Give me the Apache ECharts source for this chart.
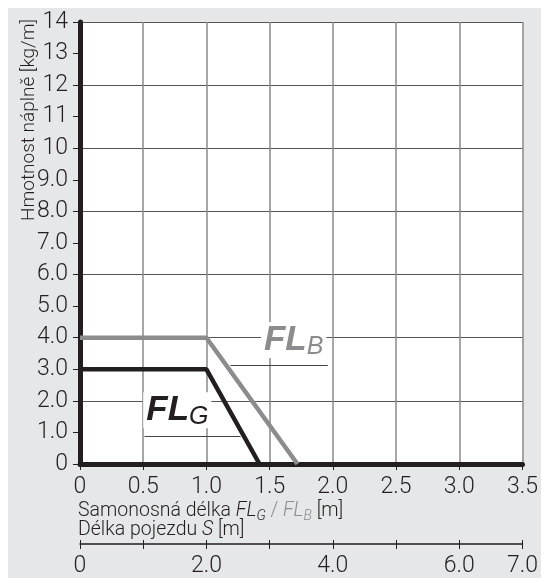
<!DOCTYPE html>
<html>
<head>
<meta charset="utf-8">
<script src="https://cdn.jsdelivr.net/npm/echarts@6/dist/echarts.min.js"></script>
<style>
html,body{margin:0;padding:0;background:#fff;}
#bg{position:absolute;left:8px;top:8px;width:533px;height:570px;background:#e6e7e8;}
#chart{position:absolute;left:0;top:0;width:541px;height:578px;}
</style>
</head>
<body>
<div id="bg"></div>
<div id="chart"></div>
<script>
// Data
const flG = [[0, 3.0], [1.0, 3.0], [1.42, 0]];
const flB = [[0, 4.0], [1.0, 4.0], [1.72, 0]];
const xTicksFL = [0, 0.5, 1.0, 1.5, 2.0, 2.5, 3.0, 3.5];
const sLabels = [0, 2, 4, 6, 7];
const yName = 'Hmotnost náplně [kg/m]';

const FONT = 'Roboto';
const TXT = '#231f20';
const GRAYS = '#8c8c8e';

const chart = echarts.init(document.getElementById('chart'), null, {renderer: 'canvas'});

function fmtY(v) { return v === 0 ? '0' : (v >= 10 ? String(v) : v.toFixed(1)); }
function fmtX(v) { return v === 0 ? '0' : v.toFixed(1); }

const option = {
  backgroundColor: 'transparent',
  animation: false,
  grid: {left: 80, right: 18, top: 22, bottom: 111, show: true, backgroundColor: '#fff', borderWidth: 0},
  xAxis: [
    {type: 'value', position: 'bottom', min: 0, max: 3.5, interval: 0.5,
     axisLine: {lineStyle: {color: TXT, width: 5}},
     axisTick: {show: true, length: 6, lineStyle: {color: TXT, width: 1}},
     axisLabel: {fontFamily: FONT, fontWeight: 300, fontSize: 23, color: TXT, margin: 12, formatter: fmtX},
     splitLine: {show: true, lineStyle: {color: '#8a8a8a', width: 1.5}}},
    {type: 'value', position: 'top', min: 0, max: 3.5, interval: 0.5,
     axisLine: {lineStyle: {color: TXT, width: 3}}, axisTick: {show: false}, axisLabel: {show: false}, splitLine: {show: false}},
    {type: 'value', position: 'bottom', offset: 80, min: 0, max: 7, interval: 1,
     axisLine: {lineStyle: {color: TXT, width: 1.5}},
     axisTick: {show: true, length: 5, lineStyle: {color: TXT, width: 1}},
     axisLabel: {fontFamily: FONT, fontWeight: 300, fontSize: 23, color: TXT, margin: 11,
       showMaxLabel: true, showMinLabel: true,
       formatter: function (v) { return sLabels.indexOf(v) >= 0 ? fmtX(v) : ''; }},
     splitLine: {show: false}},
    {type: 'value', position: 'bottom', offset: 80, min: 0, max: 7, interval: 1,
     axisLine: {show: false},
     axisTick: {show: true, inside: true, length: 4, lineStyle: {color: TXT, width: 1}},
     axisLabel: {show: false}, splitLine: {show: false}}
  ],
  yAxis: [
    {type: 'value', position: 'left', min: 0, max: 14, interval: 1,
     axisLine: {show: true, lineStyle: {color: TXT, width: 5}},
     axisTick: {show: true, length: 7, lineStyle: {color: TXT, width: 1}},
     axisLabel: {fontFamily: FONT, fontWeight: 300, fontSize: 23, color: TXT, margin: 12, formatter: fmtY},
     splitLine: {show: false}},
    {type: 'value', position: 'right', min: 0, max: 14, interval: 2,
     axisLine: {show: true, lineStyle: {color: TXT, width: 3}},
     axisTick: {show: false}, axisLabel: {show: false},
     splitLine: {show: true, lineStyle: {color: '#555', width: 1}}}
  ],
  series: [
    {name: 'FL_B', type: 'line', data: flB, xAxisIndex: 0, yAxisIndex: 0, symbol: 'none',
     lineStyle: {color: GRAYS, width: 4.5}, z: 3,
     markLine: {silent: true, symbol: 'none', label: {show: false},
       lineStyle: {color: '#444', width: 1, type: 'solid'},
       data: [[{coord: [1.19, 3.14]}, {coord: [1.96, 3.14]}]]},
     markPoint: {silent: true, symbol: 'rect', symbolSize: 1, itemStyle: {color: 'rgba(0,0,0,0)'},
       data: [{coord: [1.69, 3.93], label: {show: true, position: 'inside',
         formatter: '{a|FL}{b|B}', backgroundColor: '#fff', padding: [0, 3, 0, 3],
         rich: {a: {fontFamily: 'Liberation Sans', fontWeight: 'bold', fontStyle: 'italic', fontSize: 35, color: GRAYS, lineHeight: 36},
                b: {fontFamily: 'Liberation Sans', fontStyle: 'italic', fontSize: 25, color: GRAYS, lineHeight: 36, padding: [14, 0, 0, 0]}}}}]}},
    {name: 'FL_G', type: 'line', data: flG, xAxisIndex: 0, yAxisIndex: 0, symbol: 'none',
     lineStyle: {color: TXT, width: 4.5}, z: 4,
     markLine: {silent: true, symbol: 'none', label: {show: false},
       lineStyle: {color: '#444', width: 1, type: 'solid'},
       data: [[{coord: [0.51, 0.88]}, {coord: [1.27, 0.88]}]]},
     markPoint: {silent: true, symbol: 'rect', symbolSize: 1, itemStyle: {color: 'rgba(0,0,0,0)'},
       data: [{coord: [0.77, 1.70], label: {show: true, position: 'inside',
         formatter: '{a|FL}{b|G}', backgroundColor: '#fff', padding: [0, 3, 0, 3],
         rich: {a: {fontFamily: 'Liberation Sans', fontWeight: 'bold', fontStyle: 'italic', fontSize: 35, color: TXT, lineHeight: 36},
                b: {fontFamily: 'Liberation Sans', fontStyle: 'italic', fontSize: 25, color: TXT, lineHeight: 36, padding: [14, 0, 0, 0]}}}}]}}
  ],
  graphic: [
    {type: 'text', x: 29, y: 120, rotation: Math.PI / 2,
     style: {text: yName, fontFamily: FONT, fontWeight: 300, fontSize: 19, fill: TXT, align: 'center', verticalAlign: 'middle'}},
    {type: 'text', left: 78, top: 499,
     style: {text: '{n|Samonosná délka }{i|FL}{s|G}{g| / }{gi|FL}{gs|B}{n| [m]}\n{n|Délka pojezdu }{i|S}{n| [m]}',
       rich: {
         n: {fontFamily: FONT, fontWeight: 300, fontSize: 19.5, fill: TXT, lineHeight: 19},
         i: {fontFamily: FONT, fontWeight: 300, fontStyle: 'italic', fontSize: 19.5, fill: TXT, lineHeight: 19},
         s: {fontFamily: FONT, fontWeight: 300, fontStyle: 'italic', fontSize: 14, fill: TXT, lineHeight: 19, padding: [10, 0, 0, 0]},
         g: {fontFamily: FONT, fontWeight: 300, fontSize: 19.5, fill: GRAYS, lineHeight: 19},
         gi: {fontFamily: FONT, fontWeight: 300, fontStyle: 'italic', fontSize: 19.5, fill: GRAYS, lineHeight: 19},
         gs: {fontFamily: FONT, fontWeight: 300, fontStyle: 'italic', fontSize: 14, fill: GRAYS, lineHeight: 19, padding: [10, 0, 0, 0]}
       }}}
  ]
};
chart.setOption(option);
</script>
</body>
</html>
